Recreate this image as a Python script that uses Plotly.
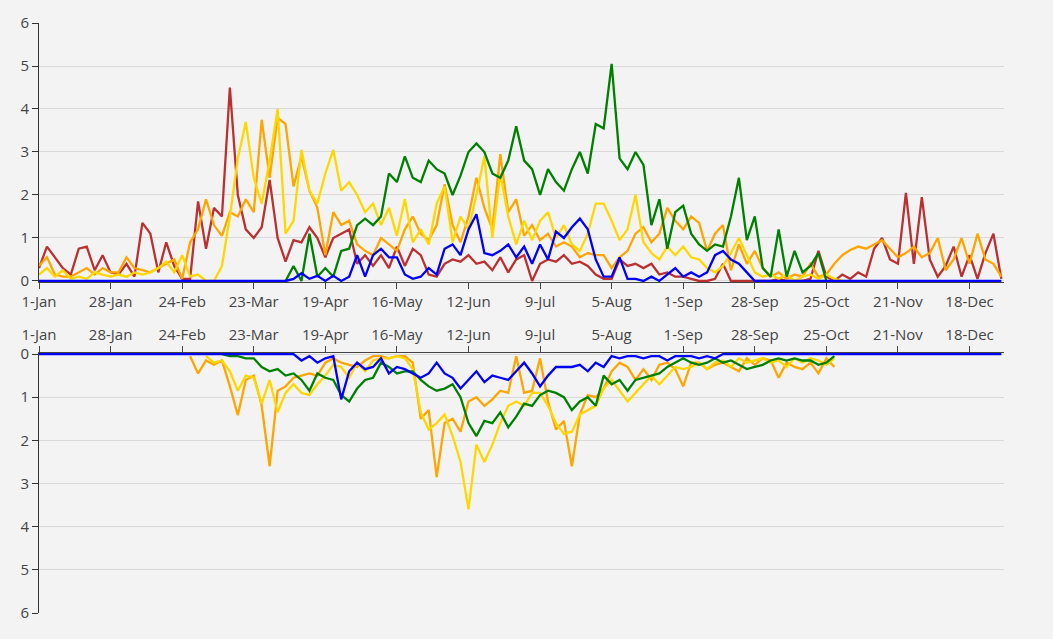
import datetime as dt

import plotly.graph_objects as go

START = dt.date(2019, 1, 1)
STEP = 3

tick_labels = ["1-Jan", "28-Jan", "24-Feb", "23-Mar", "19-Apr", "16-May", "12-Jun",
               "9-Jul", "5-Aug", "1-Sep", "28-Sep", "25-Oct", "21-Nov", "18-Dec"]

# ---- upper panel ----
red_top = [0.3, 0.8, 0.55, 0.3, 0.15, 0.75, 0.8, 0.25, 0.6, 0.2,
           0.15, 0.4, 0.1, 1.35, 1.1, 0.2, 0.9, 0.35, 0.05, 0.05,
           1.85, 0.75, 1.7, 1.5, 4.5, 2.0, 1.2, 1.0, 1.25, 2.35,
           1.0, 0.45, 0.95, 0.9, 1.25, 1.0, 0.55, 1.0, 1.1, 1.2,
           0.4, 0.6, 0.35, 0.6, 0.3, 0.8, 0.35, 0.75, 0.6, 0.15,
           0.1, 0.4, 0.5, 0.45, 0.6, 0.4, 0.45, 0.25, 0.55, 0.2,
           0.5, 0.6, 0.0, 0.4, 0.5, 0.45, 0.6, 0.4, 0.45, 0.35,
           0.15, 0.05, 0.05, 0.5, 0.35, 0.4, 0.3, 0.4, 0.15, 0.2,
           0.1, 0.1, 0.05, 0.0, 0.0, 0.05, 0.4, 0.0, 0.0, 0.0,
           0.0, 0.0, 0.0, 0.05, 0.0, 0.0, 0.0, 0.05, 0.7, 0.1,
           0.0, 0.15, 0.05, 0.2, 0.1, 0.75, 1.0, 0.5, 0.4, 2.05,
           0.4, 1.95, 0.5, 0.1, 0.35, 0.8, 0.1, 0.6, 0.05, 0.65,
           1.1, 0.05]

orange_top = [0.35, 0.55, 0.15, 0.1, 0.1, 0.2, 0.3, 0.15, 0.3, 0.2,
              0.2, 0.55, 0.3, 0.25, 0.2, 0.3, 0.4, 0.5, 0.05, 0.9,
              1.2, 1.9, 1.3, 1.05, 1.6, 1.5, 1.9, 1.6, 3.75, 2.4,
              3.8, 3.65, 2.2, 2.9, 2.1, 1.7, 0.6, 1.6, 1.3, 1.4,
              0.85, 0.7, 0.6, 1.0, 0.85, 0.7, 1.2, 1.5, 1.1, 0.95,
              1.3, 2.25, 1.3, 0.9, 1.5, 2.4, 1.7, 1.2, 2.95, 1.6,
              1.9, 1.05, 1.3, 0.95, 1.1, 0.8, 0.9, 0.8, 0.55, 0.65,
              0.6, 0.6, 0.3, 0.55, 0.7, 1.1, 1.25, 0.9, 1.1, 1.7,
              1.4, 1.2, 1.5, 1.35, 0.7, 1.1, 1.3, 0.25, 0.85, 0.4,
              0.7, 0.3, 0.1, 0.2, 0.05, 0.15, 0.1, 0.4, 0.1, 0.15,
              0.4, 0.6, 0.72, 0.8, 0.75, 0.85, 0.95, 0.75, 0.55, 0.65,
              0.8, 0.55, 0.65, 1.0, 0.25, 0.5, 1.0, 0.4, 1.1, 0.5,
              0.4, 0.1]

gold_top = [0.15, 0.3, 0.1, 0.25, 0.05, 0.1, 0.05, 0.2, 0.15, 0.1,
            0.15, 0.1, 0.2, 0.15, 0.2, 0.3, 0.45, 0.2, 0.6, 0.1,
            0.15, 0.0, 0.0, 0.35, 1.5, 2.85, 3.7, 2.4, 1.8, 2.8,
            4.0, 1.1, 1.4, 3.05, 2.1, 1.8, 2.5, 3.05, 2.1, 2.3,
            2.0, 1.6, 1.8, 1.3, 1.7, 1.05, 1.9, 0.9, 1.2, 0.85,
            1.8, 2.2, 0.9, 1.5, 1.2, 2.0, 2.9, 1.0, 2.5, 1.5,
            0.85, 1.4, 0.95, 1.4, 1.6, 1.0, 1.3, 0.85, 0.7, 1.1,
            1.8, 1.8, 1.4, 0.95, 1.2, 2.0, 0.9, 0.65, 0.5, 0.8,
            0.6, 0.8, 0.55, 0.5, 0.3, 0.2, 0.35, 0.65, 1.0, 0.6,
            0.2, 0.1, 0.15, 0.05, 0.15, 0.0, 0.1, 0.15, 0.05, 0.15,
            0.05, 0.0]
gold_top_start = 0

green_top_start = 31
green_top = [0.0, 0.35, 0.0, 1.1, 0.1, 0.3, 0.1, 0.7, 0.75,
             1.3, 1.45, 1.3, 1.5, 2.5, 2.3, 2.9, 2.4, 2.3, 2.8,
             2.6, 2.5, 2.0, 2.45, 3.0, 3.2, 3.0, 2.5, 2.4, 2.8,
             3.6, 2.8, 2.6, 2.0, 2.6, 2.3, 2.1, 2.6, 3.0, 2.5,
             3.65, 3.55, 5.05, 2.85, 2.6, 3.0, 2.7, 1.3, 1.9, 0.75,
             1.6, 1.75, 1.1, 0.85, 0.7, 0.85, 0.8, 1.5, 2.4, 0.95,
             1.5, 0.3, 0.1, 1.2, 0.1, 0.7, 0.2, 0.35, 0.65, 0.0]

blue_top = ([0.0] * 31 +
            [0.0, 0.05, 0.18, 0.05, 0.12, 0.0, 0.12, 0.0, 0.1,
             0.6, 0.1, 0.6, 0.75, 0.55, 0.55, 0.15, 0.05, 0.1, 0.3,
             0.15, 0.75, 0.85, 0.6, 1.2, 1.55, 0.65, 0.6, 0.7, 0.85,
             0.55, 0.8, 0.4, 0.85, 0.5, 1.15, 1.0, 1.25, 1.45, 1.2,
             0.5, 0.1, 0.1, 0.55, 0.05, 0.05, 0.0, 0.1, 0.0, 0.15,
             0.3, 0.1, 0.2, 0.1, 0.2, 0.6, 0.7, 0.5, 0.4, 0.2,
             0.0] +
            [0.0] * 31)

# ---- lower panel (axis reversed) ----
orange_bot_start = 19
orange_bot = [0.05,
              0.45, 0.15, 0.25, 0.15, 0.75, 1.42, 0.6, 0.5, 1.2, 2.6,
              0.85, 0.75, 0.55, 0.5, 0.45, 0.5, 0.2, 0.1, 0.2, 0.25,
              0.3, 0.15, 0.05, 0.05, 0.1, 0.05, 0.05, 0.2, 1.5, 1.3,
              2.85, 1.6, 1.5, 1.8, 1.1, 1.0, 1.2, 1.05, 0.85, 0.9,
              0.05, 0.9, 0.85, 0.1, 1.1, 1.75, 1.55, 2.6, 1.4, 0.95,
              1.0, 0.8, 0.4, 0.2, 0.3, 0.6, 0.35, 0.6, 0.25, 0.2,
              0.35, 0.75, 0.2, 0.2, 0.35, 0.25, 0.2, 0.3, 0.4, 0.1,
              0.25, 0.1, 0.15, 0.55, 0.2, 0.3, 0.35, 0.2, 0.45, 0.1,
              0.3]

gold_bot_start = 21
gold_bot = [0.05, 0.2, 0.15, 0.4, 0.85, 0.5, 0.55, 1.15, 0.6,
            1.35, 0.9, 0.7, 0.9, 0.95, 0.7, 0.5, 0.25, 0.3, 0.55,
            0.2, 0.4, 0.15, 0.1, 0.1, 0.05, 0.1, 0.35, 1.35, 1.75,
            1.6, 1.4, 1.9, 2.5, 3.6, 2.1, 2.5, 2.1, 1.6, 1.2,
            1.1, 1.2, 0.9, 0.9, 1.2, 1.6, 1.85, 1.8, 1.4, 1.3,
            1.2, 0.8, 0.6, 0.85, 1.1, 0.9, 0.7, 0.5, 0.7, 0.5,
            0.3, 0.35, 0.3, 0.2, 0.35, 0.2, 0.15, 0.3, 0.1, 0.2,
            0.15, 0.1, 0.2, 0.15, 0.3, 0.1, 0.2, 0.1, 0.15, 0.25,
            0.1]

green_bot_start = 23
green_bot = [0.0, 0.05, 0.05, 0.1, 0.1, 0.3, 0.4,
             0.35, 0.5, 0.45, 0.6, 0.85, 0.45, 0.55, 0.6, 0.95, 1.1,
             0.8, 0.6, 0.55, 0.2, 0.3, 0.45, 0.4, 0.4, 0.6, 0.75,
             0.85, 0.8, 0.7, 1.0, 1.6, 1.9, 1.55, 1.6, 1.35, 1.7,
             1.45, 1.15, 1.2, 0.95, 0.85, 0.9, 1.0, 1.3, 1.1, 1.0,
             1.2, 0.5, 0.7, 0.6, 0.85, 0.6, 0.55, 0.5, 0.45, 0.3,
             0.2, 0.1, 0.2, 0.25, 0.2, 0.1, 0.2, 0.15, 0.25, 0.35,
             0.3, 0.25, 0.15, 0.1, 0.15, 0.1, 0.15, 0.15, 0.25, 0.2,
             0.05]

blue_bot = ([0.0] * 32 +
            [0.0, 0.15, 0.05, 0.2, 0.1, 0.05, 1.05, 0.4,
             0.2, 0.35, 0.3, 0.1, 0.45, 0.3, 0.35, 0.45, 0.55, 0.45,
             0.2, 0.45, 0.55, 0.8, 0.6, 0.4, 0.65, 0.5, 0.55, 0.6,
             0.4, 0.2, 0.45, 0.75, 0.5, 0.3, 0.3, 0.3, 0.25, 0.4,
             0.2, 0.3, 0.05, 0.1, 0.05, 0.05, 0.1, 0.05, 0.05, 0.15,
             0.05, 0.05, 0.05, 0.1, 0.05, 0.1] +
            [0.0] * 36)

RED = "#bb3030"
ORANGE = "#ffa500"
GOLD = "#ffd700"
GREEN = "#008000"
BLUE = "#0000ff"
BG = "#f3f3f3"


def days(first, values):
    return [START + dt.timedelta(days=STEP * (first + k)) for k in range(len(values))]


def line(first, values, color, xa, ya):
    return go.Scatter(x=days(first, values), y=values, mode="lines",
                      line=dict(color=color, width=2.3), xaxis=xa, yaxis=ya,
                      hoverinfo="skip")


fig = go.Figure()
fig.add_trace(line(0, red_top, RED, "x", "y"))
fig.add_trace(line(0, orange_top, ORANGE, "x", "y"))
fig.add_trace(line(gold_top_start, gold_top, GOLD, "x", "y"))
fig.add_trace(line(green_top_start, green_top, GREEN, "x", "y"))
fig.add_trace(line(0, blue_top, BLUE, "x", "y"))

fig.add_trace(line(orange_bot_start, orange_bot, ORANGE, "x2", "y2"))
fig.add_trace(line(gold_bot_start, gold_bot, GOLD, "x2", "y2"))
fig.add_trace(line(green_bot_start, green_bot, GREEN, "x2", "y2"))
fig.add_trace(line(0, blue_bot, BLUE, "x2", "y2"))

tick_vals = [START + dt.timedelta(days=27 * k) for k in range(len(tick_labels))]
x_range = ["2019-01-01", "2019-12-31"]

xcommon = dict(range=x_range, tickvals=tick_vals, ticktext=tick_labels,
               ticks="outside", ticklen=6, tickcolor="#444", showgrid=False,
               showline=True, linecolor="#444", zeroline=False, automargin=False)
ycommon = dict(tickvals=[0, 1, 2, 3, 4, 5, 6], ticks="outside", ticklen=6,
               tickcolor="#333", showline=True, linecolor="#333", linewidth=1,
               gridcolor="#d9d9d9", gridwidth=1, zeroline=False, automargin=False)

fig.update_layout(
    width=1053,
    height=639,
    margin=dict(l=39, r=49, t=23, b=26),
    paper_bgcolor=BG,
    plot_bgcolor=BG,
    showlegend=False,
    font=dict(family="Open Sans", size=15, color="#444"),
    xaxis=dict(domain=[0, 1], anchor="y", **xcommon),
    yaxis=dict(domain=[0.5602, 1], range=[-0.035, 6], anchor="x", **ycommon),
    xaxis2=dict(domain=[0, 1], anchor="y2", side="top", **xcommon),
    yaxis2=dict(domain=[0, 0.4415], range=[6, -0.035], anchor="x2", **ycommon),
)

# drop the page's default 8px body margin so the figure fills the window
page_css = ("document.body.style.margin='0';"
            "document.body.style.background='%s';" % BG)
fig.write_html("out.html", post_script=page_css,
               config={"displayModeBar": False})
